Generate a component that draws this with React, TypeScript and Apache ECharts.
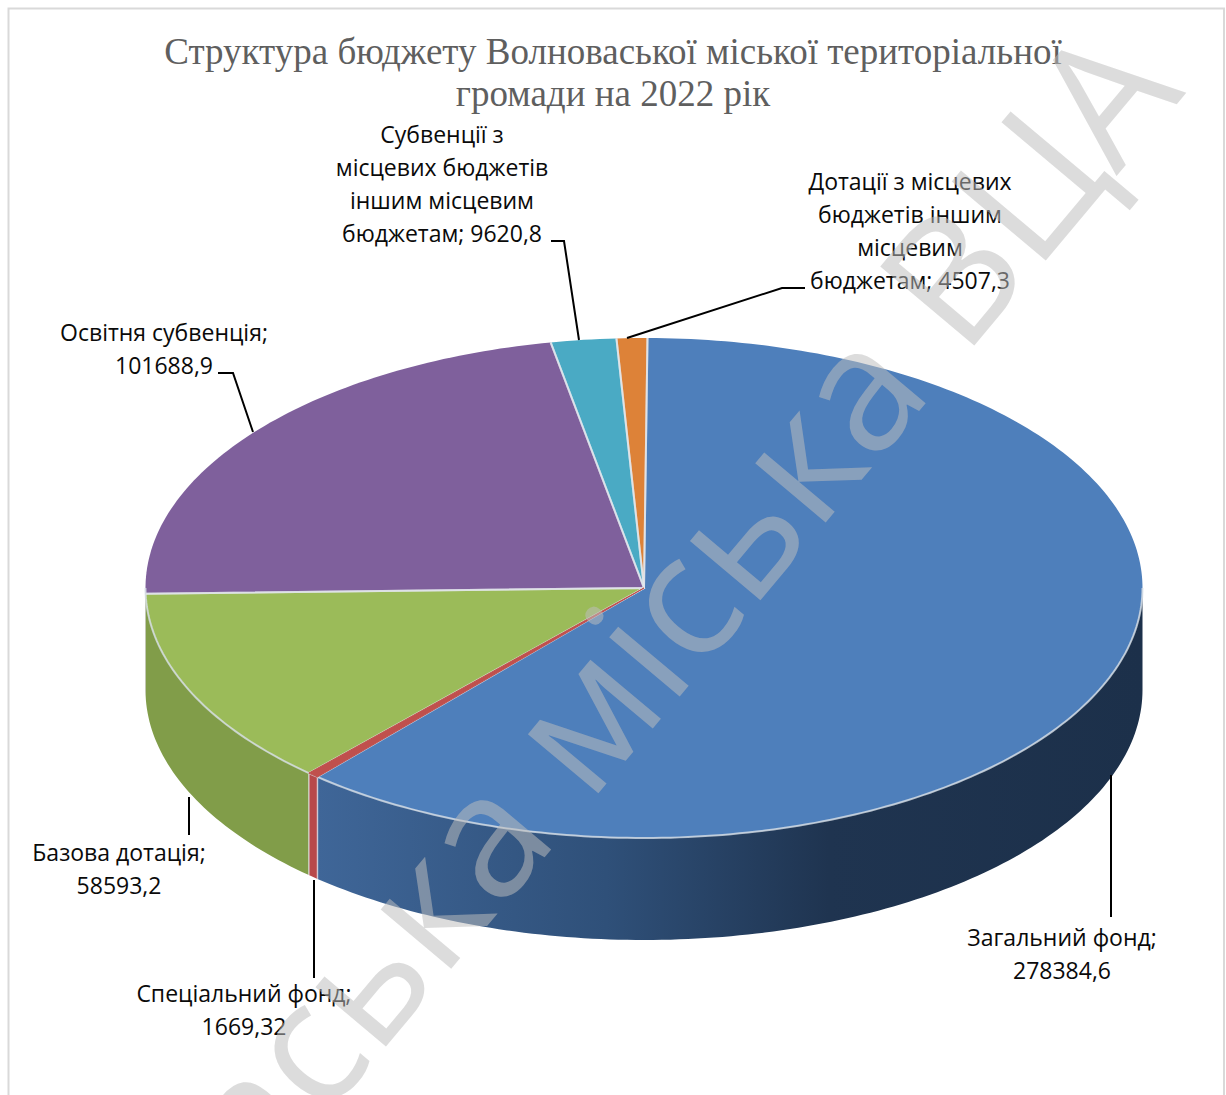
import React, { useEffect, useRef } from "react";
import * as echarts from "echarts";

const titleText = "Структура бюджету Волноваської міської територіальної\nгромади на 2022 рік";
const watermarkText = "Волноваська міська ВЦА";
const categories = [
  "Загальний фонд",
  "Спеціальний фонд",
  "Базова дотація",
  "Освітня субвенція",
  "Субвенції з\nмісцевих бюджетів\nіншим місцевим\nбюджетам",
  "Дотації з місцевих\nбюджетів іншим\nмісцевим\nбюджетам",
];
const values = [278384.6, 1669.32, 58593.2, 101688.9, 9620.8, 4507.3];
const valueSeparators = [";\n", ";\n", ";\n", ";\n", "; ", "; "];
const topColors = ["#4e7fbb", "#c0504d", "#9bbb59", "#7f609c", "#4aaac4", "#dd8238"];
const sideColors = ["#3e6596", "#b8494a", "#819d49", "#65497f", "#3a8a9e", "#b0682c"];

const CX = 644, CY = 588, RX = 498.5, RY = 250, DEPTH = 102, START = 0.4;

const labelAnchors = [
  [1062, 953], [244, 1009], [119, 868], [164, 348], [442, 183], [910, 230],
];
const leaders = [
  [[1111, 775], [1111, 917]],
  [[314, 880], [314, 978]],
  [[189, 797], [189, 835]],
  [[218, 373], [233, 373], [253, 432]],
  [[551, 241], [564, 241], [579, 340]],
  [[805, 288], [782, 288], [627, 338]],
];

const total = values.reduce((a, b) => a + b, 0);
const pt = (deg: number, dy = 0) => {
  const r = (deg * Math.PI) / 180;
  return [CX + RX * Math.sin(r), CY - RY * Math.cos(r) + dy];
};
const arc = (a0: number, a1: number, dy = 0) => {
  const n = Math.max(2, Math.ceil((a1 - a0) / 1));
  const out: number[][] = [];
  for (let i = 0; i <= n; i++) out.push(pt(a0 + ((a1 - a0) * i) / n, dy));
  return out;
};

const fmt = (v: number) => String(v).replace(".", ",");

function renderItem(params: any, api: any) {
  const i = params.dataIndex;
  const before = values.slice(0, i).reduce((a, b) => a + b, 0);
  const a0 = START + (before / total) * 360;
  const a1 = a0 + (api.value(1) / total) * 360;
  const children: any[] = [];
  const wa = Math.max(a0, 90), wb = Math.min(a1, 270);
  const edge = "rgba(228,232,238,0.7)";
  const isThin = i === 1;
  if (wb > wa) {
    const fill: any = i === 0
      ? new echarts.graphic.LinearGradient(0, 0, 1, 0, [
          { offset: 0, color: "#3f6698" },
          { offset: 0.35, color: "#2f5079" },
          { offset: 0.62, color: "#1f3450" },
          { offset: 1, color: "#1c304a" },
        ])
      : sideColors[i];
    children.push({
      type: "polygon",
      shape: { points: [...arc(wa, wb), ...arc(wa, wb, DEPTH).reverse()] },
      style: { fill, stroke: "none" },
      z2: 1,
    });
    if (isThin) {
      const p = pt(a0), q = pt(a1);
      children.push({
        type: "line",
        shape: { x1: p[0], y1: p[1] + 1, x2: p[0], y2: p[1] + DEPTH },
        style: { stroke: edge, lineWidth: 1.5 },
        z2: 5,
      });
      children.push({
        type: "line",
        shape: { x1: q[0], y1: q[1] + 1, x2: q[0], y2: q[1] + DEPTH },
        style: { stroke: edge, lineWidth: 1.5 },
        z2: 5,
      });
    }
  }
  children.push({
    type: "polygon",
    shape: { points: [[CX, CY], ...arc(a0, a1)] },
    style: isThin
      ? { fill: topColors[i], stroke: topColors[i], lineWidth: 1 }
      : { fill: topColors[i], stroke: "none" },
    z2: isThin ? 6 : 1,
  });
  if (!isThin) {
    children.push({
      type: "polyline",
      shape: { points: [pt(a1), [CX, CY], pt(a0)] },
      style: { fill: "none", stroke: edge, lineWidth: 2 },
      z2: 5,
    });
  }
  if (wb > wa) {
    children.push({
      type: "polyline",
      shape: { points: arc(wa, wb) },
      style: { fill: "none", stroke: "rgba(215,222,230,0.8)", lineWidth: 2 },
      z2: 5,
    });
  }
  children.push({
    type: "polyline",
    shape: { points: leaders[i] },
    style: { fill: "none", stroke: "#000000", lineWidth: 2 },
    z2: 7,
  });
  children.push({
    type: "text",
    x: labelAnchors[i][0],
    y: labelAnchors[i][1],
    style: {
      text: categories[i] + valueSeparators[i] + fmt(values[i]),
      fill: "#0a0a0a",
      font: '23px "Open Sans"',
      align: "center",
      verticalAlign: "middle",
      lineHeight: 33,
    },
    z2: 8,
  });
  return { type: "group", children };
}

export default function App() {
  const ref = useRef<HTMLDivElement>(null);
  useEffect(() => {
    const chart = echarts.init(ref.current!, undefined, { renderer: "svg" });
    chart.setOption({
      animation: false,
      backgroundColor: "#ffffff",
      graphic: {
        elements: [
          {
            type: "rect",
            z: 1,
            shape: { x: 8.5, y: 8.5, width: 1215.5, height: 1120 },
            style: { fill: "none", stroke: "#d9d9d9", lineWidth: 2 },
          },
          {
            type: "text",
            z: 1,
            x: 613,
            y: 72,
            style: {
              text: titleText,
              fill: "#5f5f5f",
              font: '37px "Liberation Serif"',
              align: "center",
              verticalAlign: "middle",
              lineHeight: 42,
            },
          },
          {
            type: "text",
            z: 100,
            x: 1201,
            y: 105,
            rotation: (50 * Math.PI) / 180,
            style: {
              text: watermarkText,
              fill: "rgba(189,189,189,0.53)",
              font: '172px "Open Sans"',
              align: "right",
              verticalAlign: "bottom",
            },
          },
        ],
      },
      series: [
        {
          type: "custom",
          coordinateSystem: "none",
          z: 2,
          renderItem,
          data: categories.map((name, i) => ({ name, value: [i, values[i]] })),
        },
      ],
    });
    return () => chart.dispose();
  }, []);
  return (
    <div
      ref={ref}
      style={{ position: "absolute", left: 0, top: 0, width: 1226, height: 1095, overflow: "hidden" }}
    />
  );
}
